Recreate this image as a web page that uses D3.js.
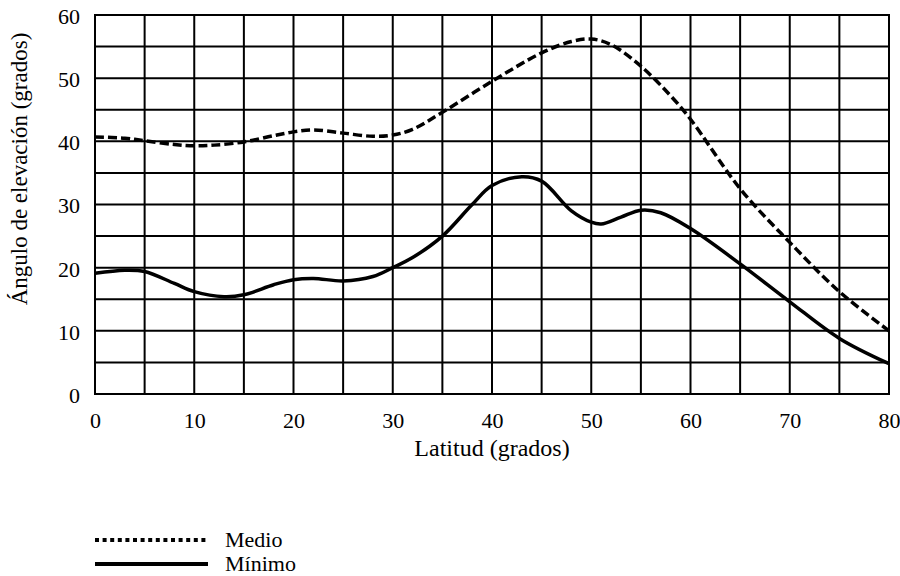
<!DOCTYPE html>
<html>
<head>
<meta charset="utf-8">
<script src="https://cdn.jsdelivr.net/npm/d3@7"></script>
<style>
  body { margin: 0; background: #fff; }
  svg text { font-family: "Liberation Serif", "Times New Roman", serif; font-size: 22px; fill: #000; }
</style>
</head>
<body>
<svg id="chart" width="900" height="576"></svg>
<script>
// ---- data ----
const medioLat = [0, 3, 5, 8, 10, 12, 15, 18, 20, 22, 25, 28, 30, 32, 35, 40, 45, 48, 50, 52, 55, 58, 60, 65, 70, 75, 80];
const medioVal = [40.7, 40.5, 40.1, 39.5, 39.3, 39.4, 39.9, 40.9, 41.5, 41.8, 41.3, 40.8, 41.0, 41.9, 44.6, 49.5, 54.0, 55.8, 56.2, 55.3, 51.9, 47.2, 43.5, 32.5, 24.0, 16.2, 10.0];
const minimoLat = [0, 3, 5, 8, 10, 13, 15, 18, 20, 22, 25, 28, 30, 32, 35, 38, 40, 43, 45, 48, 50, 51, 53, 55, 57, 60, 65, 70, 75, 80];
const minimoVal = [19.1, 19.6, 19.4, 17.5, 16.2, 15.4, 15.7, 17.3, 18.1, 18.3, 17.9, 18.6, 20.0, 21.6, 25.0, 30.0, 33.0, 34.4, 33.7, 29.0, 27.2, 26.9, 28.0, 29.1, 28.7, 26.2, 20.6, 14.6, 8.8, 4.8];
const xTicks = [0, 10, 20, 30, 40, 50, 60, 70, 80];
const yTicks = [0, 10, 20, 30, 40, 50, 60];
const gridX = [0, 5, 10, 15, 20, 25, 30, 35, 40, 45, 50, 55, 60, 65, 70, 75, 80];
const gridY = [0, 5, 10, 15, 20, 25, 30, 35, 40, 45, 50, 55, 60];
const seriesNames = ["Medio", "Mínimo"];
const xTitle = "Latitud (grados)";
const yTitle = "Ángulo de elevación (grados)";

// ---- layout ----
const L = 95, R = 889, T = 15, B = 394;
const svg = d3.select("#chart");
const x = d3.scaleLinear().domain([0, 80]).range([L, R]);
const y = d3.scaleLinear().domain([0, 60]).range([B, T]);

// grid
const g = svg.append("g");
g.selectAll("line.gx").data(gridX).join("line")
  .attr("class", "gx")
  .attr("x1", d => x(d)).attr("x2", d => x(d)).attr("y1", T).attr("y2", B)
  .attr("stroke", "#000").attr("stroke-width", 2);
g.selectAll("line.gy").data(gridY).join("line")
  .attr("class", "gy")
  .attr("x1", L).attr("x2", R).attr("y1", d => y(d)).attr("y2", d => y(d))
  .attr("stroke", "#000").attr("stroke-width", 2);
svg.append("rect").attr("x", L).attr("y", T).attr("width", R - L).attr("height", B - T)
  .attr("fill", "none").attr("stroke", "#000").attr("stroke-width", 2);

// axes (labels only)
const xAxis = svg.append("g").attr("transform", `translate(0,${B})`)
  .call(d3.axisBottom(x).tickValues(xTicks).tickSize(0).tickPadding(0));
xAxis.select(".domain").remove();
xAxis.selectAll("text").attr("dy", null).attr("y", 34)
  .style("font-size", "22px").style("font-family", "Liberation Serif");

const yAxis = svg.append("g").attr("transform", `translate(${L},0)`)
  .call(d3.axisLeft(y).tickValues(yTicks).tickSize(0).tickPadding(0));
yAxis.select(".domain").remove();
yAxis.selectAll("text").attr("x", -15).attr("dy", "0.38em")
  .style("font-size", "22px").style("font-family", "Liberation Serif");

// series
const line = d3.line().x(d => x(d[0])).y(d => y(d[1])).curve(d3.curveCatmullRom.alpha(0.5));
const medio = medioLat.map((d, i) => [d, medioVal[i]]);
const minimo = minimoLat.map((d, i) => [d, minimoVal[i]]);
svg.append("path").attr("d", line(minimo)).attr("fill", "none")
  .attr("stroke", "#000").attr("stroke-width", 3.5).attr("stroke-linejoin", "round");
svg.append("path").attr("d", line(medio)).attr("fill", "none")
  .attr("stroke", "#000").attr("stroke-width", 3.5).attr("stroke-dasharray", "9,4");

// titles
svg.append("text").attr("x", (L + R) / 2).attr("y", 456).attr("text-anchor", "middle")
  .style("font-size", "24px").text(xTitle);
svg.append("text").attr("transform", "translate(27,169) rotate(-90)").attr("text-anchor", "middle")
  .style("font-size", "23px").text(yTitle);

// legend
const leg = svg.append("g");
const legY = [540, 564];
leg.append("line").attr("x1", 95).attr("x2", 208).attr("y1", legY[0]).attr("y2", legY[0])
  .attr("stroke", "#000").attr("stroke-width", 4).attr("stroke-dasharray", "4,3.6");
leg.append("line").attr("x1", 95).attr("x2", 208).attr("y1", legY[1]).attr("y2", legY[1])
  .attr("stroke", "#000").attr("stroke-width", 4);
leg.selectAll("text").data(seriesNames).join("text")
  .attr("x", 225).attr("y", (d, i) => legY[i] + 7)
  .style("font-size", "22px").text(d => d);
</script>
</body>
</html>
